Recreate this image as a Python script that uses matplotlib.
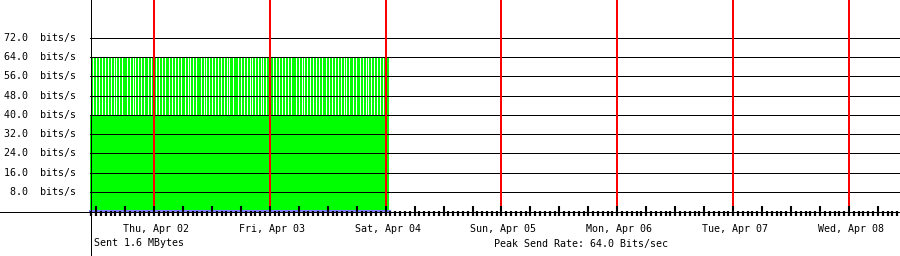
import matplotlib
matplotlib.use('Agg')
import matplotlib.pyplot as plt
import numpy as np
from matplotlib.lines import Line2D
from matplotlib.transforms import blended_transform_factory

# ---- data ----
day_labels = ["Thu, Apr 02", "Fri, Apr 03", "Sat, Apr 04", "Sun, Apr 05",
              "Mon, Apr 06", "Tue, Apr 07", "Wed, Apr 08"]
day_hours = [0, 24, 48, 72, 96, 120, 144]          # hours after Thu Apr 02 00:00
y_ticks = [8.0, 16.0, 24.0, 32.0, 40.0, 48.0, 56.0, 64.0, 72.0]
view_start_h = -13.26
view_end_h = 154.57
sent_start_h = -13.26
sent_end_h = 48.49
sent_base_end_h = 48.75
sent_low = 40.0
sent_peak = 64.0
received_value = 0.0
# 1 = sample at peak (64 bits/s), 0 = sample at 40 bits/s
upper_pattern = ("1101101101" "1011011011" "0110101101" "1011110110" "1101011011"
                 "0110111011" "0101101101" "1011011101" "1011011011" "0111011010"
                 "1101101111" "0110101101" "1011011011" "0110110101" "1101111011"
                 "0110110110" "1011011011" "0101101110" "1101101101" "1011011011"
                 "0111101101" "1010110110" "1101101101" "1011101101" "1011011011"
                 "0110101101" "1101101110" "1101101011" "0110110110" "11011011")
sent_total = "Sent 1.6 MBytes"
peak_text = "Peak Send Rate: 64.0 Bits/sec"

# ---- figure ----
W, H = 900, 256
fig = plt.figure(figsize=(W / 100, H / 100), dpi=100)
ax = fig.add_axes([90 / W, 45 / H, 810 / W, 211 / H])
ax.set_xlim(view_start_h, view_end_h)
ax.set_ylim(0, 87.8)
for s in ax.spines.values():
    s.set_visible(False)

mono = 'DejaVu Sans Mono'
fs = 7.2

# sent data: base level up to 40, then one 1-px column per sample
vals = np.array([sent_peak if c == '1' else sent_low for c in upper_pattern])
n = len(vals)
edges = np.linspace(sent_start_h, sent_end_h, n + 1)
centers = (edges[:-1] + edges[1:]) / 2
ax.fill_between([sent_start_h, sent_base_end_h], 0, sent_low, color='#00ff00',
                lw=0, antialiased=False, zorder=1)
ax.vlines(centers, sent_low, vals, colors='#00ff00', lw=0.72,
          antialiased=False, zorder=1)

# gridlines
for v in y_ticks:
    ax.axhline(v, color='black', lw=0.72, antialiased=False, zorder=1.5)

# day lines
for h in day_hours:
    ax.axvline(h, color='#ff0000', lw=1.44, antialiased=False, zorder=2)

# received line
ax.plot([sent_start_h, sent_base_end_h], [received_value, received_value],
        color='#7f7fff', lw=1.0, antialiased=False, zorder=2.1,
        clip_on=False)

# ticks
ax.set_axisbelow(False)
ax.xaxis.remove_overlapping_locs = False
ax.set_xticks(np.arange(-12, view_end_h, 6))
ax.set_xticks(np.arange(-13, view_end_h, 1), minor=True)
ax.tick_params(axis='x', which='major', direction='in', length=3.8, width=1.5,
               color='black', labelbottom=False)
ax.tick_params(axis='x', which='minor', direction='out', length=3.8, width=1.6,
               color='black')
ax.set_yticks([])

# axis frame lines
fig.add_artist(Line2D([90.5 / W, 90.5 / W], [0, 1], transform=fig.transFigure,
                      color='black', lw=0.72, antialiased=False))
fig.add_artist(Line2D([0, 1], [44.5 / H, 44.5 / H], transform=fig.transFigure,
                      color='black', lw=0.72, antialiased=False))

# y labels
tr_y = blended_transform_factory(fig.transFigure, ax.transData)
for v in y_ticks:
    ax.text(76 / W, v, f"{v:.1f}  bits/s", transform=tr_y, ha='right',
            va='center', family=mono, fontsize=fs, clip_on=False)

# day labels
tr_x = blended_transform_factory(ax.transData, fig.transFigure)
for h, lab in zip(day_hours, day_labels):
    ax.text(h + 0.4, 1 - 228.5 / H, lab, transform=tr_x, ha='center', va='center',
            family=mono, fontsize=fs, clip_on=False)

fig.text(94 / W, 1 - 243.5 / H, sent_total, ha='left', va='center',
         family=mono, fontsize=fs)
fig.text(494 / W, 1 - 243.5 / H, peak_text, ha='left', va='center',
         family=mono, fontsize=fs)

fig.savefig('out.png', dpi=100)
